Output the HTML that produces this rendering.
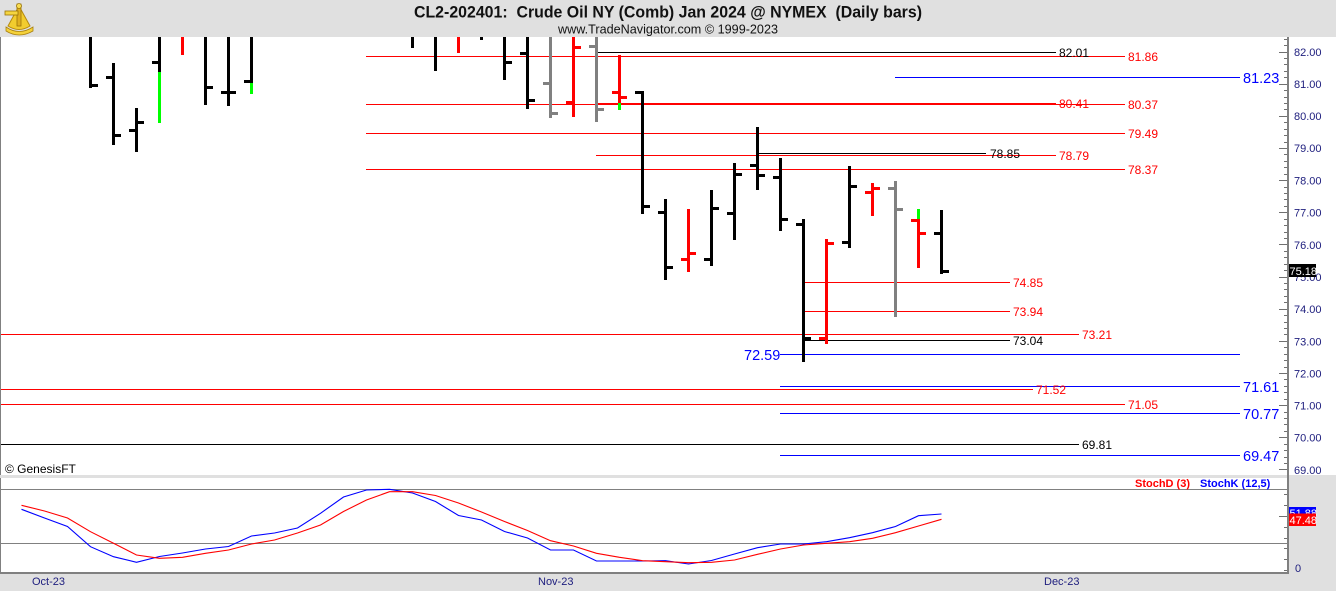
<!DOCTYPE html>
<html><head><meta charset="utf-8"><style>
html,body{margin:0;padding:0;background:#e0e0e0;}
svg{display:block;font-family:"Liberation Sans",Arial,sans-serif;}
</style></head><body>
<svg width="1336" height="591" viewBox="0 0 1336 591" xmlns="http://www.w3.org/2000/svg">
<!-- backgrounds -->
<rect x="0" y="0" width="1336" height="591" fill="#e0e0e0"/>
<rect x="0" y="37" width="1336" height="438" fill="#ffffff"/>
<rect x="0" y="478" width="1288" height="94" fill="#ffffff"/>
<!-- logo -->
<g>
<path d="M8 26 L19 6 L30 26 Q19 33 8 26 Z" fill="#f2cc2e" stroke="#b58a10" stroke-width="1"/>
<rect x="17" y="4" width="4" height="22" fill="#e0b020" stroke="#9a7408" stroke-width="0.8"/>
<rect x="5" y="11" width="13" height="4" fill="#f5d540" stroke="#9a7408" stroke-width="0.8"/>
<path d="M6 27 Q19 36 33 27 L33 31 Q19 39 6 31 Z" fill="#f5d23a" stroke="#a88010" stroke-width="0.8"/>
<circle cx="19" cy="6" r="2.5" fill="#f7dc50" stroke="#9a7408" stroke-width="0.8"/>
</g>
<!-- header text -->
<text x="414" y="17.5" font-size="16.5" font-weight="bold" fill="#111" textLength="508" lengthAdjust="spacingAndGlyphs" style="white-space:pre">CL2-202401:  Crude Oil NY (Comb) Jan 2024 @ NYMEX  (Daily bars)</text>
<text x="558" y="33.3" font-size="13" fill="#111" textLength="220" lengthAdjust="spacingAndGlyphs">www.TradeNavigator.com © 1999-2023</text>

<!-- left border -->
<rect x="0" y="37" width="1" height="536" fill="#808080"/>

<!-- horizontal study lines -->
<g shape-rendering="crispEdges" stroke-width="1" fill="none">
<path d="M596 52.5H1056" stroke="#000"/>
<path d="M366 56.5H1125" stroke="#ff0000"/>
<path d="M895 77.5H1240" stroke="#0000ff"/>
<path d="M596 103.5H1056" stroke="#ff0000"/>
<path d="M366 104.5H1125" stroke="#ff0000"/>
<path d="M366 133.5H1125" stroke="#ff0000"/>
<path d="M758 153.5H986" stroke="#000"/>
<path d="M596 155.5H1056" stroke="#ff0000"/>
<path d="M366 169.5H1125" stroke="#ff0000"/>
<path d="M803 282.5H1010" stroke="#ff0000"/>
<path d="M803 311.5H1010" stroke="#ff0000"/>
<path d="M1 334.5H1079" stroke="#ff0000"/>
<path d="M803 340.5H1010" stroke="#000"/>
<path d="M780 354.5H1240" stroke="#0000ff"/>
<path d="M780 386.5H1240" stroke="#0000ff"/>
<path d="M1 389.5H1033" stroke="#ff0000"/>
<path d="M1 404.5H1125" stroke="#ff0000"/>
<path d="M780 413.5H1240" stroke="#0000ff"/>
<path d="M1 444.5H1079" stroke="#000"/>
<path d="M780 455.5H1240" stroke="#0000ff"/>
</g>
<g font-size="12">
<text x="1059" y="57" fill="#000">82.01</text>
<text x="1128" y="61" fill="#ff0000">81.86</text>
<text x="1059" y="108" fill="#ff0000">80.41</text>
<text x="1128" y="109" fill="#ff0000">80.37</text>
<text x="1128" y="138" fill="#ff0000">79.49</text>
<text x="990" y="158" fill="#000">78.85</text>
<text x="1059" y="160" fill="#ff0000">78.79</text>
<text x="1128" y="174" fill="#ff0000">78.37</text>
<text x="1013" y="287" fill="#ff0000">74.85</text>
<text x="1013" y="316" fill="#ff0000">73.94</text>
<text x="1082" y="339" fill="#ff0000">73.21</text>
<text x="1013" y="345" fill="#000">73.04</text>
<text x="1036" y="394" fill="#ff0000">71.52</text>
<text x="1128" y="409" fill="#ff0000">71.05</text>
<text x="1082" y="449" fill="#000">69.81</text>
</g>
<g font-size="14.5" fill="#0000ff">
<text x="1243" y="83">81.23</text>
<text x="744" y="360">72.59</text>
<text x="1243" y="392">71.61</text>
<text x="1243" y="419">70.77</text>
<text x="1243" y="461">69.47</text>
</g>

<!-- price bars -->
<g shape-rendering="crispEdges">
<g fill="#000">
<rect x="89" y="37" width="3" height="51"/><rect x="92" y="84" width="6" height="3"/>
<rect x="112" y="63" width="3" height="82"/><rect x="106" y="76" width="6" height="3"/><rect x="115" y="134" width="6" height="3"/>
<rect x="135" y="108" width="3" height="44"/><rect x="129" y="129" width="6" height="3"/><rect x="138" y="121" width="6" height="3"/>
<rect x="158" y="37" width="3" height="35"/><rect x="152" y="61" width="6" height="3"/>
<rect x="204" y="37" width="3" height="68"/><rect x="207" y="86" width="6" height="3"/>
<rect x="227" y="37" width="3" height="69"/><rect x="221" y="91" width="6" height="3"/><rect x="230" y="91" width="6" height="3"/>
<rect x="250" y="37" width="3" height="46"/><rect x="244" y="80" width="6" height="3"/>
<rect x="411" y="37" width="3" height="11"/>
<rect x="434" y="37" width="3" height="34"/>
<rect x="480" y="37" width="3" height="3"/>
<rect x="503" y="37" width="3" height="43"/><rect x="506" y="61" width="6" height="3"/>
<rect x="526" y="37" width="3" height="72"/><rect x="520" y="52" width="6" height="3"/><rect x="529" y="99" width="6" height="3"/>
<rect x="641" y="91" width="3" height="123"/><rect x="635" y="91" width="6" height="3"/><rect x="644" y="205" width="6" height="3"/>
<rect x="664" y="199" width="3" height="81"/><rect x="658" y="211" width="6" height="3"/><rect x="667" y="266" width="6" height="3"/>
<rect x="710" y="190" width="3" height="76"/><rect x="704" y="258" width="6" height="3"/><rect x="713" y="207" width="6" height="3"/>
<rect x="733" y="163" width="3" height="77"/><rect x="727" y="212" width="6" height="3"/><rect x="736" y="173" width="6" height="3"/>
<rect x="756" y="127" width="3" height="63"/><rect x="750" y="164" width="6" height="3"/><rect x="759" y="174" width="6" height="3"/>
<rect x="779" y="158" width="3" height="73"/><rect x="773" y="176" width="6" height="3"/><rect x="782" y="218" width="6" height="3"/>
<rect x="802" y="219" width="3" height="143"/><rect x="796" y="223" width="6" height="3"/><rect x="805" y="337" width="6" height="3"/>
<rect x="848" y="166" width="3" height="82"/><rect x="842" y="241" width="6" height="3"/><rect x="851" y="185" width="6" height="3"/>
<rect x="940" y="210" width="3" height="64"/><rect x="934" y="232" width="6" height="3"/><rect x="943" y="270" width="6" height="3"/>
</g>
<g fill="#ff0000">
<rect x="181" y="37" width="3" height="18"/>
<rect x="457" y="37" width="3" height="16"/>
<rect x="572" y="37" width="3" height="80"/><rect x="566" y="101" width="6" height="3"/><rect x="575" y="46" width="6" height="3"/>
<rect x="618" y="55" width="3" height="48"/><rect x="612" y="91" width="6" height="3"/><rect x="621" y="96" width="6" height="3"/>
<rect x="687" y="209" width="3" height="63"/><rect x="681" y="258" width="6" height="3"/><rect x="690" y="252" width="6" height="3"/>
<rect x="825" y="239" width="3" height="105"/><rect x="819" y="337" width="6" height="3"/><rect x="828" y="242" width="6" height="3"/>
<rect x="871" y="183" width="3" height="33"/><rect x="865" y="191" width="6" height="3"/><rect x="874" y="187" width="6" height="3"/>
<rect x="917" y="219" width="3" height="49"/><rect x="911" y="219" width="6" height="3"/><rect x="920" y="232" width="6" height="3"/>
</g>
<g fill="#00ff00">
<rect x="158" y="72" width="3" height="51"/>
<rect x="250" y="83" width="3" height="11"/>
<rect x="618" y="103" width="3" height="7"/>
<rect x="917" y="209" width="3" height="10"/>
</g>
<g fill="#808080">
<rect x="549" y="37" width="3" height="81"/><rect x="543" y="82" width="6" height="3"/><rect x="552" y="112" width="6" height="3"/>
<rect x="595" y="37" width="3" height="85"/><rect x="589" y="45" width="6" height="3"/><rect x="598" y="108" width="6" height="3"/>
<rect x="894" y="181" width="3" height="136"/><rect x="888" y="187" width="6" height="3"/><rect x="897" y="208" width="6" height="3"/>
</g>
</g>

<text x="5" y="473" font-size="12" fill="#000">© GenesisFT</text>

<!-- panel separator -->
<rect x="0" y="475" width="1336" height="3" fill="#e0e0e0"/>
<rect x="1290" y="475" width="46" height="116" fill="#e0e0e0"/>

<!-- stoch panel -->
<g shape-rendering="crispEdges">
<path d="M1 489.5H1287M1 543.5H1287" stroke="#808080" stroke-width="1"/>
<rect x="0" y="572" width="1289" height="2" fill="#808080"/>
</g>
<text x="1135" y="487" font-size="11" font-weight="bold" fill="#ff0000">StochD (3)</text>
<text x="1200" y="487" font-size="11" font-weight="bold" fill="#0000ff">StochK (12,5)</text>
<polyline fill="none" stroke="#0000ff" stroke-width="1.1" points="21.5,509.3 44.5,518 67.5,526.5 90.5,546.7 113.5,556.7 136.5,562.3 159.5,556.5 182.5,553 205.5,549 228.5,546.5 251.5,536 274.5,533 297.5,528 320.5,513.3 343.5,497 366.5,490 389.5,489.3 412.5,493 435.5,501.5 458.5,515.5 481.5,520 504.5,531.5 527.5,538 550.5,550 573.5,550 596.5,561 619.5,561 642.5,561 665.5,560.7 688.5,564 711.5,560.5 734.5,554 757.5,547.7 780.5,544 803.5,544 826.5,541.7 849.5,537.7 872.5,532.7 895.5,526.5 918.5,515.7 941.5,514"/>
<polyline fill="none" stroke="#ff0000" stroke-width="1.1" points="21.5,505.3 44.5,511 67.5,518 90.5,531.7 113.5,543.3 136.5,555 159.5,558.3 182.5,557.3 205.5,553.3 228.5,550 251.5,544 274.5,540 297.5,533 320.5,525 343.5,511.5 366.5,500 389.5,491.7 412.5,491.7 435.5,495.5 458.5,503 481.5,512 504.5,521.5 527.5,530.5 550.5,540.7 573.5,546 596.5,553.3 619.5,557.3 642.5,560.7 665.5,561.7 688.5,562.7 711.5,562.3 734.5,560 757.5,554.3 780.5,549 803.5,545 826.5,543.3 849.5,541.7 872.5,538.3 895.5,532.7 918.5,526 941.5,519.3"/>

<!-- axis -->
<rect x="1287" y="37" width="2" height="537" fill="#808080"/>
<g shape-rendering="crispEdges" stroke="#707070" stroke-width="1">
<path d="M1284 39.5h3M1284 45.5h3M1279 52.5h8M1284 58.5h3M1284 64.5h3M1284 71.5h3M1284 77.5h3M1279 84.5h8M1284 90.5h3M1284 97.5h3M1284 103.5h3M1284 109.5h3M1279 116.5h8M1284 122.5h3M1284 129.5h3M1284 135.5h3M1284 142.5h3M1279 148.5h8M1284 154.5h3M1284 161.5h3M1284 167.5h3M1284 174.5h3M1279 180.5h8M1284 187.5h3M1284 193.5h3M1284 199.5h3M1284 206.5h3M1279 212.5h8M1284 219.5h3M1284 225.5h3M1284 232.5h3M1284 238.5h3M1279 244.5h8M1284 251.5h3M1284 257.5h3M1284 264.5h3M1284 270.5h3M1279 277.5h8M1284 283.5h3M1284 289.5h3M1284 296.5h3M1284 302.5h3M1279 309.5h8M1284 315.5h3M1284 322.5h3M1284 328.5h3M1284 334.5h3M1279 341.5h8M1284 347.5h3M1284 354.5h3M1284 360.5h3M1284 367.5h3M1279 373.5h8M1284 379.5h3M1284 386.5h3M1284 392.5h3M1284 399.5h3M1279 405.5h8M1284 412.5h3M1284 418.5h3M1284 424.5h3M1284 431.5h3M1279 437.5h8M1284 444.5h3M1284 450.5h3M1284 457.5h3M1284 463.5h3M1279 469.5h8"/>
<path d="M1284 494.5h3M1284 505.5h3M1279 516.5h8M1284 527.5h3M1284 538.5h3M1284 548.5h3M1284 559.5h3M1284 570.5h3"/>
</g>
<g font-size="11" fill="#20207f">
<text x="1294" y="56">82.00</text>
<text x="1294" y="88">81.00</text>
<text x="1294" y="120">80.00</text>
<text x="1294" y="152">79.00</text>
<text x="1294" y="184.5">78.00</text>
<text x="1294" y="216.5">77.00</text>
<text x="1294" y="249">76.00</text>
<text x="1294" y="281">75.00</text>
<text x="1294" y="313">74.00</text>
<text x="1294" y="345.5">73.00</text>
<text x="1294" y="377.5">72.00</text>
<text x="1294" y="409.5">71.00</text>
<text x="1294" y="441.5">70.00</text>
<text x="1294" y="474">69.00</text>
<text x="1295" y="572">0</text>
</g>
<rect x="1289" y="264" width="27" height="13" fill="#000"/>
<text x="1289.5" y="275" font-size="11" fill="#fff">75.18</text>
<rect x="1289" y="507" width="27" height="12" fill="#0000ff"/>
<text x="1289.5" y="517" font-size="11" fill="#fff">51.88</text>
<rect x="1289" y="513.5" width="27" height="12.5" fill="#ff0000"/>
<text x="1289.5" y="524" font-size="11" fill="#fff">47.48</text>

<!-- x axis labels -->
<g font-size="11" fill="#20207f">
<text x="32" y="585">Oct-23</text>
<text x="538" y="585">Nov-23</text>
<text x="1044" y="585">Dec-23</text>
</g>
</svg>
</body></html>
